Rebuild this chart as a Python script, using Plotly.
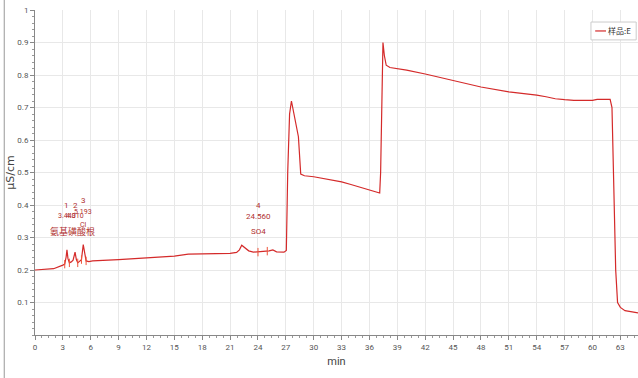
import plotly.graph_objects as go

# ---- data ----
time_min = [0, 1, 1.8, 2.0, 3.0, 3.2, 3.35, 3.44, 3.55, 3.7, 3.9, 4.1, 4.31, 4.45, 4.6, 4.8,
            5.0, 5.193, 5.35, 5.5, 5.8, 6.2, 9, 12, 15, 16.5, 18, 21, 21.7, 22.0, 22.25, 22.6,
            23, 23.5, 24.5, 25.2, 25.6, 26, 26.8, 27.05, 27.2, 27.4, 27.6, 27.8, 28.2, 28.35,
            28.6, 29, 30, 31, 32, 33, 34, 35, 36, 37.1, 37.2, 37.35, 37.45, 37.6, 37.8, 38.2,
            39, 40, 42, 45, 48, 51, 53, 54, 55, 56, 57, 58, 60, 60.5, 61.9, 62.1, 62.3, 62.5,
            62.7, 63.0, 63.5, 64.9]
conductivity = [0.200, 0.202, 0.205, 0.204, 0.215, 0.218, 0.240, 0.262, 0.235, 0.222, 0.225,
                0.230, 0.255, 0.232, 0.222, 0.226, 0.232, 0.278, 0.245, 0.228, 0.226, 0.228,
                0.232, 0.237, 0.243, 0.249, 0.250, 0.251, 0.254, 0.262, 0.276, 0.268, 0.259,
                0.255, 0.256, 0.259, 0.262, 0.256, 0.255, 0.260, 0.500, 0.680, 0.720, 0.690,
                0.630, 0.610, 0.495, 0.490, 0.487, 0.482, 0.477, 0.471, 0.463, 0.455, 0.447,
                0.437, 0.500, 0.800, 0.900, 0.860, 0.830, 0.823, 0.820, 0.815, 0.803, 0.783,
                0.763, 0.748, 0.742, 0.738, 0.733, 0.727, 0.724, 0.722, 0.722, 0.725, 0.725,
                0.700, 0.450, 0.200, 0.100, 0.085, 0.075, 0.068]

peak_numbers = ["1", "2", "3", "4"]
peak_times = [3.440, 4.310, 5.193, 24.560]
peak_names = ["氨基磺酸根", "", "Cl", "SO4"]

baseline_marks_t = [3.2, 3.7, 4.6, 5.0, 5.5, 24.0, 25.0]
baseline_marks_y = [0.218, 0.222, 0.222, 0.232, 0.228, 0.255, 0.258]

x_ticks = list(range(0, 64, 3))
y_ticks = [0.1, 0.2, 0.3, 0.4, 0.5, 0.6, 0.7, 0.8, 0.9, 1]
y_tick_text = ["0.1", "0.2", "0.3", "0.4", "0.5", "0.6", "0.7", "0.8", "0.9", "1"]

series_name = "样品:E"

# ---- figure ----
RED = "#d42a2a"
LBL = "#b03030"
TXT = "#555555"
FONT = "Roboto, Liberation Sans, sans-serif"

fig = go.Figure()
fig.add_trace(go.Scatter(x=time_min, y=conductivity, mode="lines", name=series_name,
                         showlegend=False, line=dict(color=RED, width=1.2)))
fig.add_trace(go.Scatter(x=baseline_marks_t, y=baseline_marks_y, mode="markers",
                         showlegend=False, hoverinfo="skip",
                         marker=dict(symbol="line-ns-open", size=6,
                                     line=dict(color="#3344cc", width=1))))

for i, (n, t, nm) in enumerate(zip(peak_numbers, peak_times, peak_names)):
    xs = -5 if i == 3 else 0
    small = i < 3
    fig.add_annotation(x=t, y=0.40 if i != 2 else 0.414, text=n, showarrow=False, xshift=xs,
                       font=dict(size=8, color=LBL, family=FONT))
    fig.add_annotation(x=t, y=0.365 if i != 2 else 0.38, text=f"{t:.3f}", showarrow=False,
                       xshift=xs, font=dict(size=7 if small else 8, color=LBL, family=FONT))
    if nm:
        ys = 0.318 if i != 2 else 0.338
        xs2 = 6 if i == 0 else xs
        fig.add_annotation(x=t, y=ys, text=nm, showarrow=False, xshift=xs2,
                           font=dict(size=9 if i == 0 else (7 if small else 8), color=LBL,
                                     family="Noto Sans CJK SC" if i == 0 else FONT))

# left frame line
fig.add_shape(type="line", xref="paper", yref="paper", x0=-0.051, x1=-0.051,
              y0=-0.14, y1=1.04, line=dict(color="#999999", width=1))

# legend box (drawn)
fig.add_shape(type="rect", xref="paper", yref="paper", x0=0.922, x1=0.997,
              y0=0.908, y1=0.963, line=dict(color="#cccccc", width=1), fillcolor="white")
fig.add_shape(type="line", xref="paper", yref="paper", x0=0.929, x1=0.947,
              y0=0.9355, y1=0.9355, line=dict(color=RED, width=1.2))
fig.add_annotation(xref="paper", yref="paper", x=0.948, y=0.9355, xanchor="left",
                   yanchor="middle", text=series_name, showarrow=False, borderpad=0,
                   font=dict(size=8, color="#333333", family="Noto Sans CJK SC"))

fig.update_layout(
    width=638, height=378,
    margin=dict(l=35, r=0, t=10, b=43),
    plot_bgcolor="white", paper_bgcolor="white",
    showlegend=False,
    xaxis=dict(range=[0, 64.9], tickvals=x_ticks, showgrid=True, gridcolor="#e8e8e8",
               gridwidth=1, zeroline=False, showline=True, linecolor="#888888",
               ticks="outside", ticklen=4, tickcolor="#888888",
               minor=dict(dtick=0.75, ticks="outside", ticklen=2, tickcolor="#999999",
                          showgrid=False),
               tickfont=dict(size=8, color=TXT, family=FONT),
               title=dict(text="min", font=dict(size=11, color="#444444", family=FONT),
                          standoff=6)),
    yaxis=dict(range=[0, 1], tickvals=y_ticks, ticktext=y_tick_text, showgrid=True,
               gridcolor="#e8e8e8", gridwidth=1, zeroline=False, showline=True,
               linecolor="#888888", ticks="outside", ticklen=4, tickcolor="#888888",
               minor=dict(dtick=0.02, ticks="outside", ticklen=2, tickcolor="#999999",
                          showgrid=False),
               tickfont=dict(size=8, color=TXT, family=FONT),
               title=dict(text="µS/cm", font=dict(size=11, color="#444444", family="DejaVu Sans"),
                          standoff=0)),
    font=dict(family=FONT),
)

fig.write_html("out.html")
